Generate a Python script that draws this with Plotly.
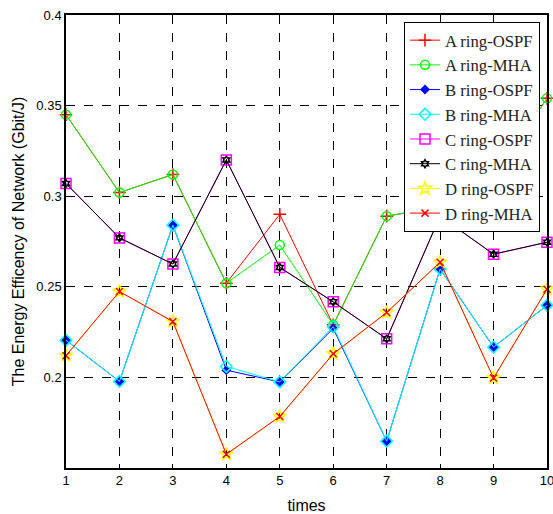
import plotly.graph_objects as go

times = [1, 2, 3, 4, 5, 6, 7, 8, 9, 10]

a_ospf = [0.345, 0.302, 0.312, 0.252, 0.290, 0.229, 0.289, 0.294, 0.310, 0.354]
a_mha  = [0.345, 0.302, 0.312, 0.252, 0.273, 0.229, 0.289, 0.294, 0.310, 0.354]
b_ospf = [0.2205, 0.1978, 0.284, 0.204, 0.1975, 0.227, 0.1648, 0.2598, 0.2167, 0.2398]
b_mha  = [0.2205, 0.1978, 0.284, 0.206, 0.1975, 0.228, 0.1648, 0.2598, 0.2167, 0.2398]
c_ospf = [0.307, 0.277, 0.2626, 0.320, 0.2607, 0.2417, 0.2213, 0.289, 0.268, 0.2746]
c_mha  = [0.307, 0.277, 0.2626, 0.320, 0.2607, 0.2417, 0.2213, 0.289, 0.268, 0.2746]
d_ospf = [0.212, 0.2474, 0.2308, 0.1576, 0.1784, 0.213, 0.2358, 0.2636, 0.1997, 0.2487]
d_mha  = [0.212, 0.2474, 0.2308, 0.1576, 0.1784, 0.213, 0.2358, 0.2636, 0.1997, 0.2487]

x_ticks = [1, 2, 3, 4, 5, 6, 7, 8, 9, 10]
y_ticks = [0.2, 0.25, 0.3, 0.35, 0.4]
y_tick_labels = ["0.2", "0.25", "0.3", "0.35", "0.4"]

series = [
    ("A ring-OSPF", a_ospf, "#ff0000", "cross-thin-open", 9),
    ("A ring-MHA", a_mha, "#00ff00", "circle-open", 9),
    ("B ring-OSPF", b_ospf, "#0000ff", "diamond", 6),
    ("B ring-MHA", b_mha, "#00ffff", "diamond-open", 9),
    ("C ring-OSPF", c_ospf, "#ff00ff", "square-open", 10),
    ("C ring-MHA", c_mha, "#000000", "hexagram-open", 6),
    ("D ring-OSPF", d_ospf, "#ffff00", "star-open", 10),
    ("D ring-MHA", d_mha, "#ff0000", "x-thin-open", 7),
]

fig = go.Figure()
for name, vals, color, sym, size in series:
    fig.add_trace(go.Scatter(
        x=times, y=vals, name=name, mode="lines+markers",
        line=dict(color=color, width=1),
        marker=dict(symbol=sym, size=size, color=color, line=dict(color=color, width=1.5)),
        cliponaxis=False,
    ))

tick_font = dict(family="Liberation Sans, Arial", size=13, color="black")
title_font = dict(family="Liberation Sans, Arial", size=16, color="black")

axis_common = dict(
    showline=True, mirror=True, linecolor="black", linewidth=1.5,
    showgrid=True, gridcolor="black", griddash="dash", gridwidth=1,
    zeroline=False, ticks="inside", ticklen=4, tickcolor="black",
    tickfont=tick_font, automargin=False, ticklabeloverflow="allow",
)

fig.update_xaxes(range=[1, 10], tickvals=x_ticks,
                 title=dict(text="times", font=title_font, standoff=13),
                 **axis_common)
fig.update_yaxes(range=[0.15, 0.4], tickvals=y_ticks, ticktext=y_tick_labels,
                 title=dict(text="The Energy Efficency of Network (Gbit/J)", font=title_font, standoff=8),
                 **axis_common)

fig.update_layout(
    width=553, height=514,
    margin=dict(l=66, r=6, t=15, b=46),
    paper_bgcolor="white", plot_bgcolor="white",
    showlegend=True,
    legend=dict(
        x=0.7027, y=0.985, xanchor="left", yanchor="top",
        bgcolor="white", bordercolor="black", borderwidth=1,
        font=dict(family="Liberation Serif, Times New Roman", size=16.7, color="#222"),
        tracegroupgap=0,
    ),
)

fig.write_html(
    "out.html",
    config={"displayModeBar": False},
    post_script="document.body.style.margin='0';document.body.style.overflow='hidden';",
)
